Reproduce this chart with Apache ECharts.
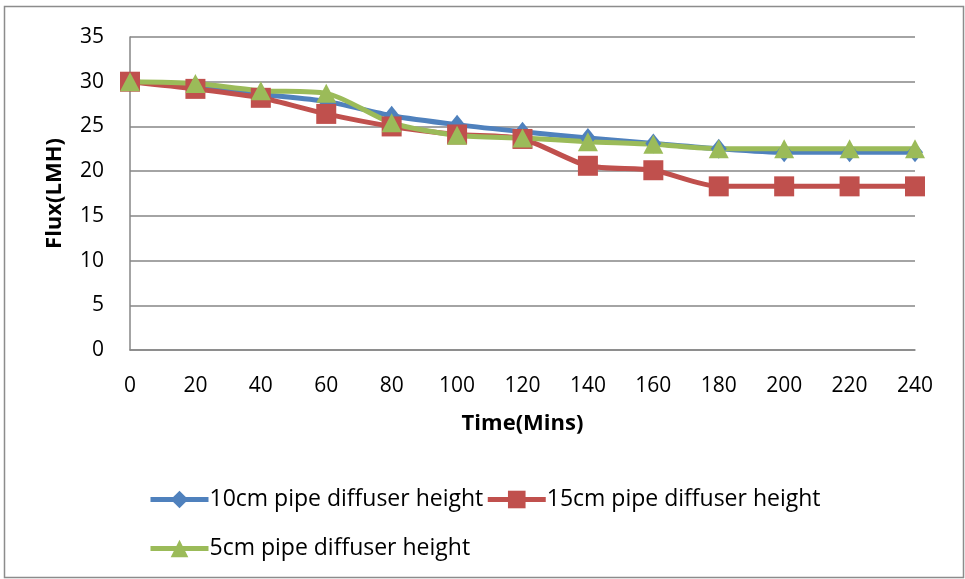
<!DOCTYPE html>
<html>
<head>
<meta charset="utf-8">
<script src="https://cdn.jsdelivr.net/npm/echarts@6/dist/echarts.min.js"></script>
<style>
  html, body { margin: 0; padding: 0; background: #fff; }
  #chart { width: 965px; height: 579px; }
</style>
</head>
<body>
<div id="chart"></div>
<script>
var times = [0, 20, 40, 60, 80, 100, 120, 140, 160, 180, 200, 220, 240];
var flux10 = [30, 29.5, 28.6, 27.8, 26.2, 25.2, 24.4, 23.7, 23.1, 22.5, 22.1, 22.1, 22.1];
var flux15 = [30, 29.2, 28.2, 26.4, 25.0, 24.1, 23.6, 20.6, 20.1, 18.3, 18.3, 18.3, 18.3];
var flux5 = [30, 29.8, 29.0, 28.7, 25.4, 24.0, 23.7, 23.3, 23.0, 22.5, 22.5, 22.5, 22.5];
var seriesNames = ['10cm pipe diffuser height', '15cm pipe diffuser height', '5cm pipe diffuser height'];

function pairs(vals) {
    return times.map(function (t, i) { return [t, vals[i]]; });
}

var dom = document.getElementById('chart');
var myChart = echarts.init(dom);
var font = '"Open Sans", Lato, sans-serif';

// two legend rows, spaced like the original
function legendRow(names, top) {
    return {
        left: 143,
        top: top,
        itemWidth: 58,
        itemHeight: 22,
        itemGap: 2,
        lineStyle: { width: 5 },
        textStyle: { fontSize: 23, color: '#000', fontFamily: font, padding: [0, 0, 0, -4] },
        data: names
    };
}

var option = {
    animation: false,
    backgroundColor: '#fff',
    textStyle: { fontFamily: font },
    graphic: [{
        type: 'rect',
        shape: { x: 4.5, y: 6.5, width: 959, height: 571 },
        style: { fill: 'none', stroke: '#8c8c8c', lineWidth: 1.5 },
        z: -1
    }],
    grid: { left: 130, right: 50, top: 37, bottom: 229 },
    legend: [
        legendRow([seriesNames[0], seriesNames[1]], 483),
        legendRow([seriesNames[2]], 532)
    ],
    xAxis: {
        type: 'value',
        min: 0, max: 240, interval: 20,
        name: 'Time(Mins)',
        nameLocation: 'middle',
        nameGap: 63,
        nameTextStyle: { fontSize: 22, fontWeight: 'bold', color: '#000', fontFamily: font },
        axisLine: { lineStyle: { color: '#868686', width: 1.5 } },
        axisTick: { show: false },
        splitLine: { show: false },
        axisLabel: { fontSize: 21, color: '#000', margin: 26, fontFamily: font }
    },
    yAxis: {
        type: 'value',
        min: 0, max: 35, interval: 5,
        name: 'Flux(LMH)',
        nameLocation: 'middle',
        nameGap: 64,
        nameTextStyle: { fontSize: 22, fontWeight: 'bold', color: '#000', fontFamily: font },
        axisLine: { show: true, lineStyle: { color: '#868686', width: 1.5 } },
        axisTick: { show: false },
        splitLine: { lineStyle: { color: '#868686', width: 1.5 } },
        axisLabel: { fontSize: 21, color: '#000', margin: 26, fontFamily: font }
    },
    series: [
        {
            name: seriesNames[0], type: 'line', smooth: 0.25,
            data: pairs(flux10),
            symbol: 'diamond', symbolSize: [16, 20],
            lineStyle: { color: '#4F81BD', width: 5 },
            itemStyle: { color: '#4F81BD' }
        },
        {
            name: seriesNames[1], type: 'line', smooth: 0.25,
            data: pairs(flux15),
            symbol: 'rect', symbolSize: 20,
            lineStyle: { color: '#C0504D', width: 5 },
            itemStyle: { color: '#C0504D' }
        },
        {
            name: seriesNames[2], type: 'line', smooth: 0.25,
            data: pairs(flux5),
            symbol: 'triangle', symbolSize: [20, 19],
            lineStyle: { color: '#9BBB59', width: 5 },
            itemStyle: { color: '#9BBB59' }
        }
    ]
};

if (option && typeof option === 'object') {
    myChart.setOption(option, true);
}
</script>
</body>
</html>
